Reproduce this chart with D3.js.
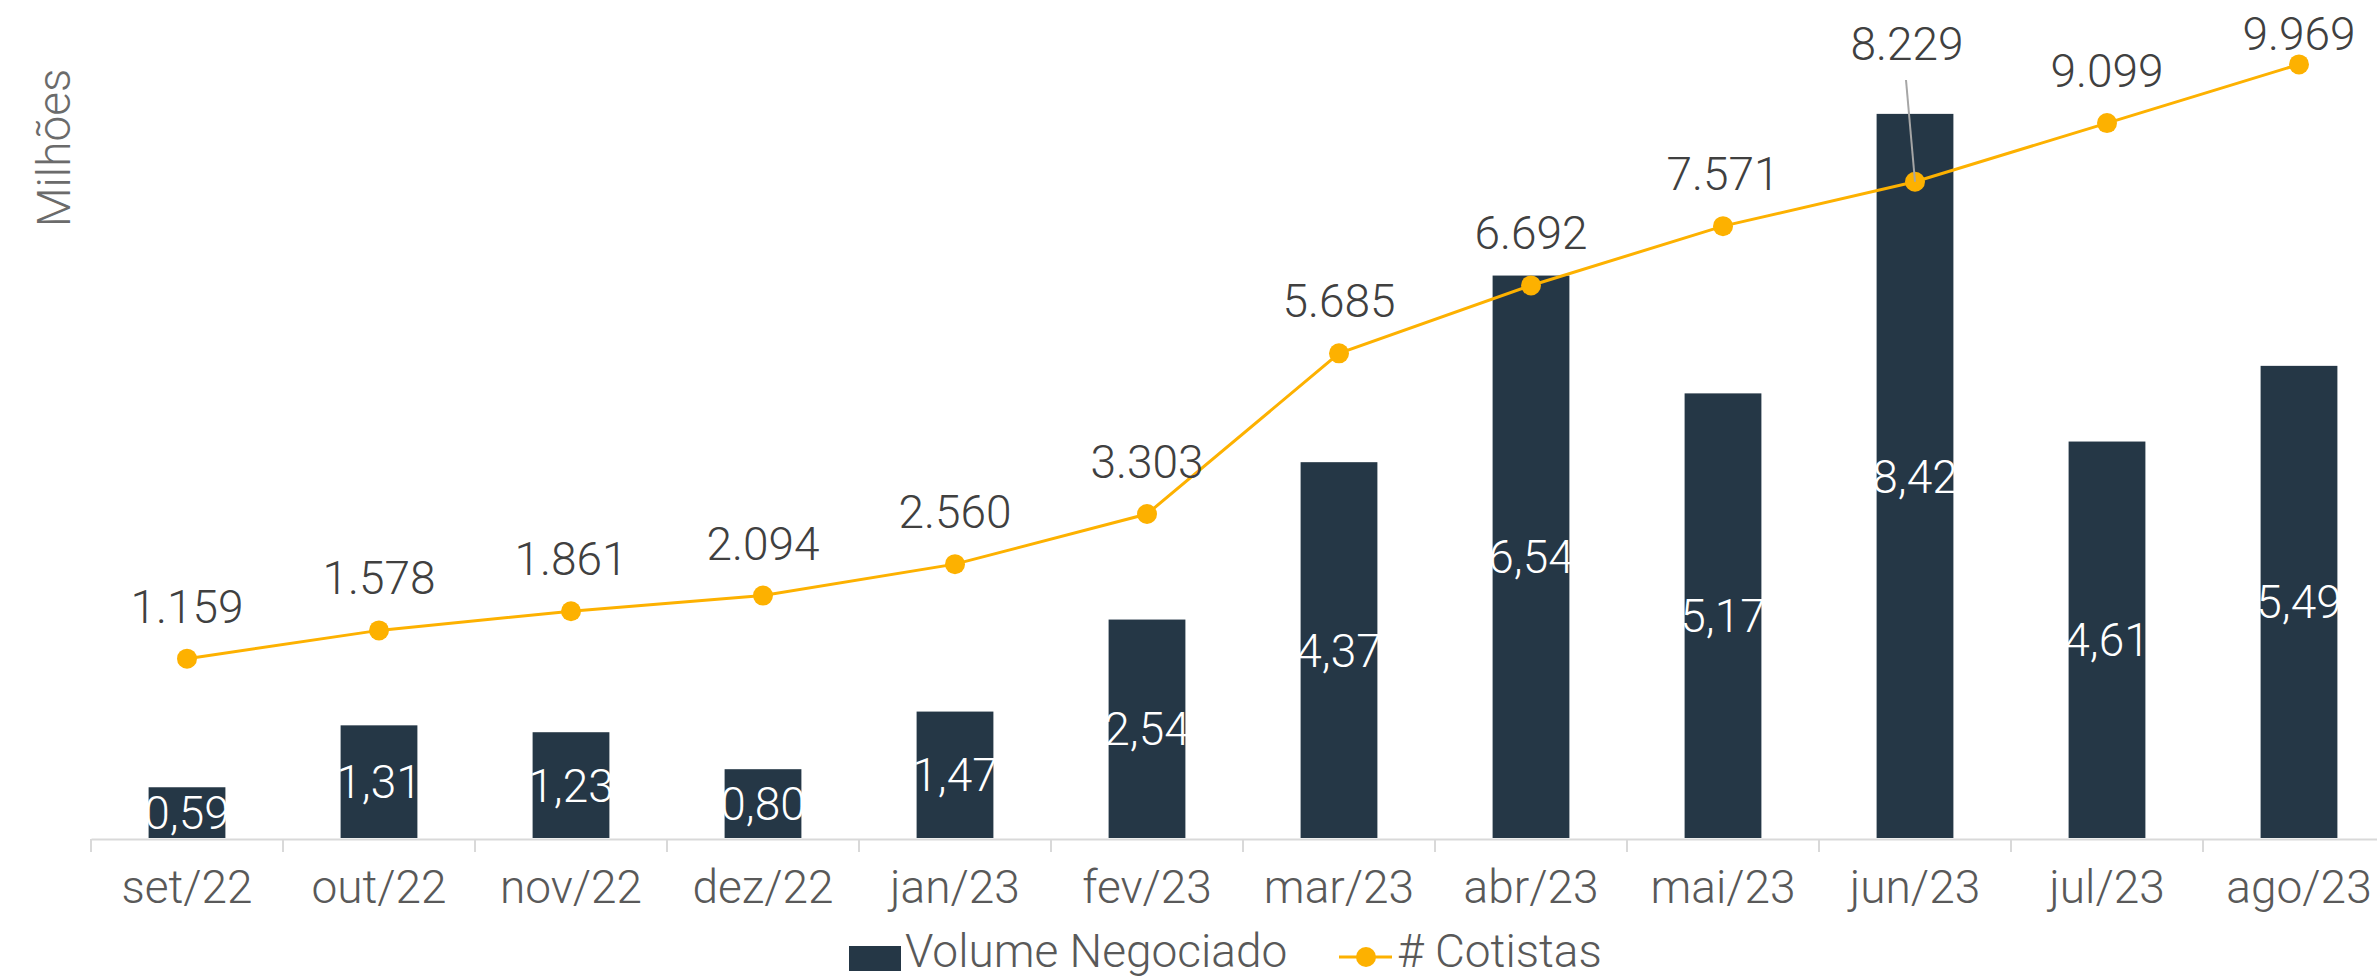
<!DOCTYPE html>
<html>
<head>
<meta charset="utf-8">
<script src="https://cdn.jsdelivr.net/npm/d3@7"></script>
<style>
  body { margin: 0; background: #fff; }
  text { font-family: Roboto, "DejaVu Sans", sans-serif; font-weight: 300; }
</style>
</head>
<body>
<div id="chart"></div>
<script>
// Monthly data
const months = ["set/22", "out/22", "nov/22", "dez/22", "jan/23", "fev/23",
                "mar/23", "abr/23", "mai/23", "jun/23", "jul/23", "ago/23"];
const volume = [0.59, 1.31, 1.23, 0.80, 1.47, 2.54, 4.37, 6.54, 5.17, 8.42, 4.61, 5.49]; // R$ milhões
const cotistas = [1159, 1578, 1861, 2094, 2560, 3303, 5685, 6692, 7571, 8229, 9099, 9969];
const seriesNames = ["Volume Negociado", "# Cotistas"];

const barColor = "#253746", lineColor = "#FDB100";

const W = 2377, H = 977;
const svg = d3.select("#chart").append("svg")
    .attr("width", W)
    .attr("height", H);

// pt-BR number formats
const br = d3.formatLocale({ decimal: ",", thousands: ".", grouping: [3], currency: ["R$", ""] });
const fmtVol = br.format(".2f"), fmtCot = br.format(",d");

// Scales (plot area runs past the right edge like the original)
const x = d3.scaleBand().domain(months).range([91, 2395]).padding(0);
const baseY = 838;
const y = d3.scaleLinear().domain([0, 10]).range([baseY, -22]);
const y2 = d3.scaleLinear().domain([-1500, 11250]).range([baseY, -22]);
const barW = x.bandwidth() * 0.4;
const cx = m => x(m) + x.bandwidth() / 2;

// Bars
svg.append("g").selectAll("rect")
    .data(months)
    .join("rect")
    .attr("x", d => cx(d) - barW / 2)
    .attr("y", (d, i) => y(volume[i]))
    .attr("width", barW)
    .attr("height", (d, i) => baseY - y(volume[i]))
    .attr("fill", barColor);

// Bar labels (white, centred in the bar)
svg.append("g").selectAll("text")
    .data(months)
    .join("text")
    .attr("x", d => cx(d))
    .attr("y", (d, i) => (y(volume[i]) + baseY) / 2)
    .attr("dy", "0.36em")
    .attr("text-anchor", "middle")
    .attr("fill", "#fff")
    .style("font-size", "46px")
    .text((d, i) => fmtVol(volume[i]));

// X axis
const xAxis = svg.append("g")
    .attr("transform", `translate(0,${baseY + 1})`)
    .call(d3.axisBottom(x).tickSize(0).tickPadding(0).tickFormat(""));
xAxis.select(".domain").attr("stroke", "#d9d9d9").attr("stroke-width", 2);
// category separator ticks
xAxis.selectAll(".sep")
    .data(months)
    .join("line")
    .attr("class", "sep")
    .attr("x1", d => x(d)).attr("x2", d => x(d))
    .attr("y1", 0).attr("y2", 13)
    .attr("stroke", "#d9d9d9").attr("stroke-width", 2);
xAxis.selectAll(".lbl")
    .data(months)
    .join("text")
    .attr("class", "lbl")
    .attr("x", d => cx(d))
    .attr("y", 64)
    .attr("text-anchor", "middle")
    .attr("fill", "#595959")
    .style("font-size", "46px")
    .text(d => d);

// Line
const pts = months.map((m, i) => [cx(m), y2(cotistas[i])]);
svg.append("path")
    .datum(pts)
    .attr("fill", "none")
    .attr("stroke", lineColor)
    .attr("stroke-width", 3)
    .attr("d", d3.line());

svg.append("g").selectAll("circle")
    .data(pts)
    .join("circle")
    .attr("cx", d => d[0])
    .attr("cy", d => d[1])
    .attr("r", 10)
    .attr("fill", lineColor);

// Cotistas labels; jun/23 was pulled up with a leader line
const lifted = "jun/23";
const lbl = svg.append("g");
months.forEach((m, i) => {
    const [px, py] = pts[i];
    let lx = px, ly = Math.max(py - 36, 50);
    if (m === lifted) {
        lx = px - 8;
        ly = 60;
        lbl.append("line")
            .attr("x1", lx - 1).attr("y1", ly + 20)
            .attr("x2", px).attr("y2", py)
            .attr("stroke", "#a6a6a6").attr("stroke-width", 2);
    }
    lbl.append("text")
        .attr("x", lx)
        .attr("y", ly)
        .attr("text-anchor", "middle")
        .attr("fill", "#404040")
        .style("font-size", "46px")
        .text(fmtCot(cotistas[i]));
});

// Axis title
svg.append("text")
    .attr("transform", "translate(70,148) rotate(-90)")
    .attr("text-anchor", "middle")
    .attr("fill", "#6b6b6b")
    .style("font-size", "46px")
    .text("Milhões");

// Legend
const leg = svg.append("g");
leg.append("rect").attr("x", 849).attr("y", 946).attr("width", 52).attr("height", 25).attr("fill", barColor);
leg.append("text").attr("x", 905).attr("y", 967).attr("fill", "#595959").style("font-size", "46px").text(seriesNames[0]);
leg.append("line").attr("x1", 1339).attr("x2", 1392).attr("y1", 957).attr("y2", 957)
    .attr("stroke", lineColor).attr("stroke-width", 3);
leg.append("circle").attr("cx", 1366).attr("cy", 957).attr("r", 10).attr("fill", lineColor);
leg.append("text").attr("x", 1397).attr("y", 967).attr("fill", "#595959").style("font-size", "46px").text(seriesNames[1]);
</script>
</body>
</html>
